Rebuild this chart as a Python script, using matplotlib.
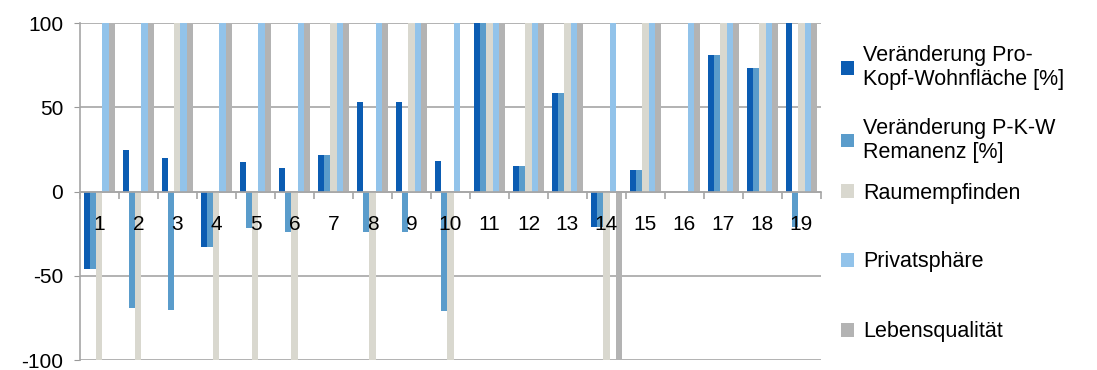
import numpy as np
import matplotlib.pyplot as plt

plt.rcParams['font.family'] = ['Liberation Sans', 'DejaVu Sans']
plt.rcParams['axes.unicode_minus'] = False

# Werte je Haushalt (1-19)
haushalte = [str(i) for i in range(1, 20)]
pro_kopf = [-46, 25, 20, -33, 17.5, 14, 22, 53, 53, 18, 100, 15, 58.5, -21, 13, 0, 81, 73.5, 100]
remanenz = [-46, -69, -70, -33, -21.5, -24, 22, -24, -24, -71, 100, 15, 58.5, -21, 13, 0, 81, 73.5, -21]
raumempfinden = [-100, -100, 100, -100, -100, -100, 100, -100, 100, -100, 100, 100, 100, -100, 100, 0, 100, 100, 100]
privatsphaere = [100, 100, 100, 100, 100, 100, 100, 100, 100, 100, 100, 100, 100, 100, 100, 100, 100, 100, 100]
lebensqualitaet = [100, 100, 100, 100, 100, 100, 100, 100, 100, 0, 100, 100, 100, -100, 100, 100, 100, 100, 100]

reihen = [
    ('Veränderung Pro-\nKopf-Wohnfläche [%]', pro_kopf, '#0B5CB2'),
    ('Veränderung P-K-W\nRemanenz [%]', remanenz, '#5A9CCB'),
    ('Raumempfinden', raumempfinden, '#D9D8CF'),
    ('Privatsphäre', privatsphaere, '#92C3EA'),
    ('Lebensqualität', lebensqualitaet, '#B3B3B3'),
]

fig = plt.figure(figsize=(10.97, 3.7), dpi=100)
ax = fig.add_axes([0.0729, 0.027, 0.6755, 0.910])

x = np.arange(len(haushalte))
breite = 0.155
handles = []
for i, (name, werte, farbe) in enumerate(reihen):
    b = ax.bar(x + (i - 2) * breite, werte, breite, color=farbe, zorder=1)
    handles.append(b)

ax.set_xlim(-0.5, len(haushalte) - 0.5)
ax.set_ylim(-100, 100)
ax.set_yticks([-100, -50, 0, 50, 100])
ax.tick_params(axis='y', labelsize=15, length=4, color='#999999', pad=8)
ax.yaxis.grid(True, color='#A6A6A6', linewidth=1.2)
ax.yaxis.set_zorder(0.5)

# Kategorieachse auf der Nulllinie, Striche an den Gruppengrenzen
ax.spines['bottom'].set_position(('data', 0))
ax.spines['bottom'].set_color('#A6A6A6')
ax.spines['bottom'].set_linewidth(1.2)
ax.spines['left'].set_color('#A6A6A6')
ax.spines['left'].set_linewidth(1.2)
ax.spines['top'].set_visible(False)
ax.spines['right'].set_visible(False)
ax.set_xticks(x)
ax.set_xticklabels(haushalte)
ax.set_xticks(np.arange(len(haushalte) + 1) - 0.5, minor=True)
ax.tick_params(axis='x', which='major', length=0, labelsize=15, pad=17)
ax.tick_params(axis='x', which='minor', length=5, direction='out', color='#A6A6A6', width=1.2)
ax.xaxis.set_zorder(3)

# Legende rechts, Einträge einzeln positioniert
pos_y = [0.818, 0.621, 0.478, 0.292, 0.103]
for (name, werte, farbe), h, py in zip(reihen, handles, pos_y):
    fig.legend([h], [name], loc='center left', bbox_to_anchor=(0.767, py),
               frameon=False, fontsize=15.5, handlelength=0.6, handleheight=0.6,
               handletextpad=0.4, borderpad=0, borderaxespad=0, labelspacing=0.1)

fig.savefig('out.png', dpi=100)
